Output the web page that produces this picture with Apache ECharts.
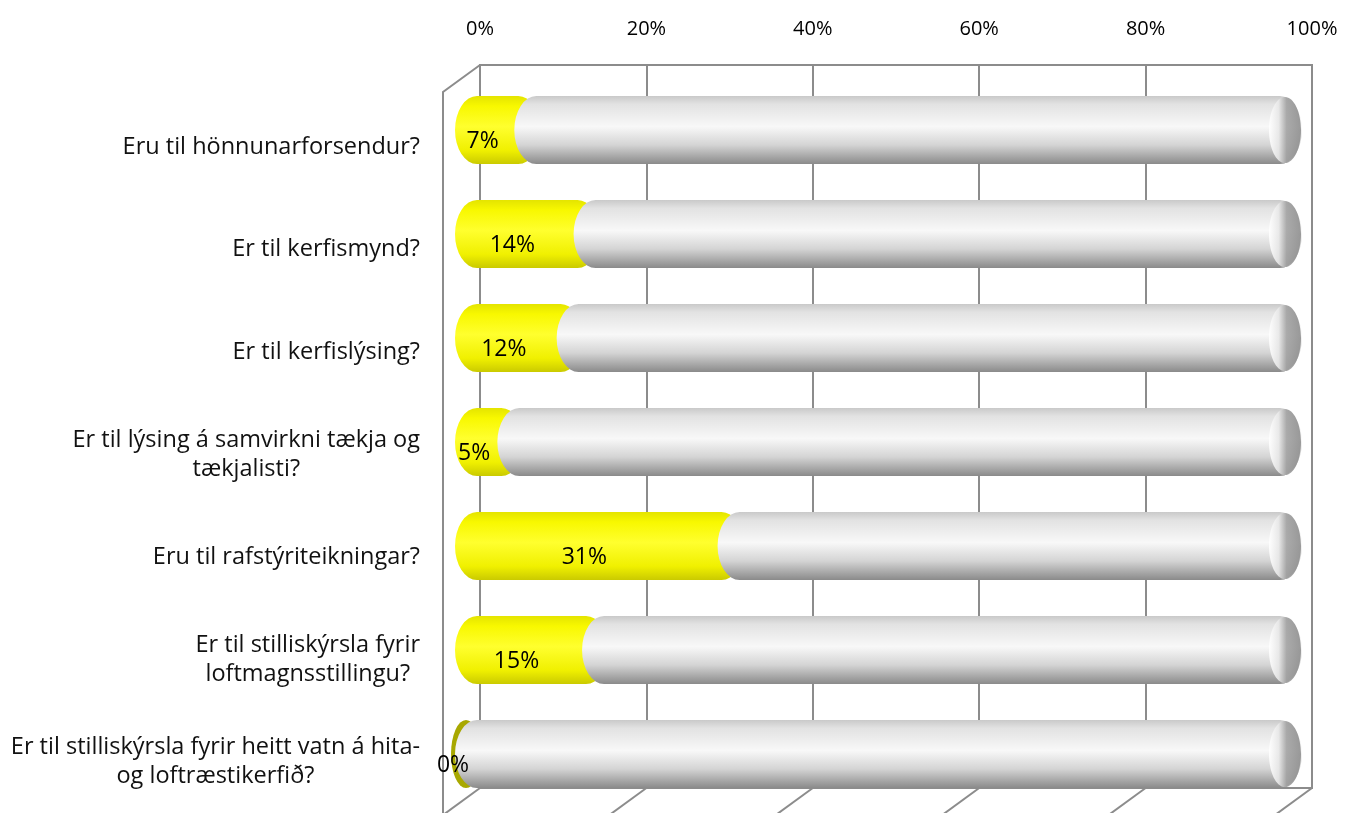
<!DOCTYPE html>
<html lang="en">
<head>
<meta charset="UTF-8">
<title>Chart</title>
<script src="https://cdn.jsdelivr.net/npm/echarts@6/dist/echarts.min.js"></script>
<style>
  html, body { margin: 0; padding: 0; background: #fff; }
  #main { width: 1358px; height: 813px; }
</style>
</head>
<body>
<div id="main"></div>
<script>
// questions (top to bottom) and share answered "yes" in %
var categories = [
  'Eru til hönnunarforsendur?',
  'Er til kerfismynd?',
  'Er til kerfislýsing?',
  'Er til lýsing á samvirkni tækja og\ntækjalisti?',
  'Eru til rafstýriteikningar?',
  'Er til stilliskýrsla fyrir\nloftmagnsstillingu?',
  'Er til stilliskýrsla fyrir heitt vatn á hita-\nog loftræstikerfið?'
];
var yesValues = [7, 14, 12, 5, 31, 15, 0];
var tickValues = [0, 20, 40, 60, 80, 100];

var FONT = '"Open Sans"';
var chart = echarts.init(document.getElementById('main'));

var grayFill = {
  type: 'linear', x: 0, y: 0, x2: 0, y2: 1,
  colorStops: [
    { offset: 0, color: '#c9c9c9' },
    { offset: 0.12, color: '#e2e2e2' },
    { offset: 0.45, color: '#f8f8f8' },
    { offset: 0.72, color: '#d4d4d4' },
    { offset: 1, color: '#8a8a8a' }
  ]
};
var yellowFill = {
  type: 'linear', x: 0, y: 0, x2: 0, y2: 1,
  colorStops: [
    { offset: 0, color: '#e4e400' },
    { offset: 0.15, color: '#f8f800' },
    { offset: 0.45, color: '#ffff2e' },
    { offset: 0.8, color: '#f0f000' },
    { offset: 1, color: '#caca00' }
  ]
};
var capFill = {
  type: 'linear', x: 0, y: 0, x2: 1, y2: 0,
  colorStops: [
    { offset: 0, color: '#ffffff' },
    { offset: 0.3, color: '#e8e8e8' },
    { offset: 0.55, color: '#a2a2a2' },
    { offset: 1, color: '#8e8e8e' }
  ]
};

// capsule with half-ellipse ends, from xa to xb
function capsule(xa, xb, y, h, rx) {
  var ry = h / 2;
  if (xb - xa < 2 * rx) rx = (xb - xa) / 2;
  return 'M' + (xa + rx) + ',' + y +
    'L' + (xb - rx) + ',' + y +
    'A' + rx + ',' + ry + ',0,0,1,' + (xb - rx) + ',' + (y + h) +
    'L' + (xa + rx) + ',' + (y + h) +
    'A' + rx + ',' + ry + ',0,0,1,' + (xa + rx) + ',' + y + 'Z';
}

function renderCylinder(params, api) {
  var idx = api.value(0);
  var v = api.value(1);
  var p0 = api.coord([0, idx]);
  var pv = api.coord([v, idx]);
  var p100 = api.coord([100, idx]);
  var h = api.size([0, 1])[1] * 0.655;
  var y = p0[1] - h / 2;
  var rx = 22;
  var children = [];
  children.push({
    type: 'path',
    shape: { pathData: capsule(v > 0 ? p0[0] : p0[0] - 4, pv[0] + rx + 4, y, h, rx) },
    style: { fill: v > 0 ? yellowFill : '#a8a800' }
  });
  children.push({
    type: 'path',
    shape: { pathData: capsule(pv[0], p100[0], y, h, rx) },
    style: { fill: grayFill }
  });
  children.push({
    type: 'ellipse',
    shape: { cx: p100[0] - 17, cy: p0[1], rx: 16, ry: h / 2 - 1 },
    style: { fill: capFill, opacity: 0.9 }
  });
  children.push({
    type: 'text',
    style: {
      text: v + '%',
      x: (p0[0] + pv[0]) / 2 - 2,
      y: p0[1] + 11,
      align: 'center',
      verticalAlign: 'middle',
      fill: '#000',
      font: '23px ' + FONT
    }
  });
  return { type: 'group', children: children };
}

var option = {
  animation: false,
  grid: [
    { left: 480, right: 46, top: 65, bottom: 25, show: true, borderColor: '#8c8c8c', borderWidth: 2, backgroundColor: 'transparent' },
    { left: 455, right: 56, top: 78, bottom: 7 },
    // category labels sit a bit lower, between the front and back planes
    { left: 455, right: 56, top: 96, bottom: -11 }
  ],
  xAxis: [
    {
      gridIndex: 0, type: 'value', position: 'top', min: 0, max: 100, interval: 20,
      axisLine: { show: false }, axisTick: { show: false },
      splitLine: { show: true, lineStyle: { color: '#8c8c8c', width: 2 } },
      axisLabel: {
        margin: 26, color: '#000', fontSize: 20, fontFamily: FONT,
        formatter: function (val) { return tickValues.indexOf(val) >= 0 ? val + '%' : ''; }
      }
    },
    { gridIndex: 1, type: 'value', min: 0, max: 100, show: false },
    { gridIndex: 2, type: 'value', min: 0, max: 100, show: false }
  ],
  yAxis: [
    { gridIndex: 0, type: 'category', data: categories, show: false },
    { gridIndex: 1, type: 'category', data: categories, inverse: true, show: false },
    {
      gridIndex: 2, type: 'category', data: categories, inverse: true,
      axisLine: { show: false }, axisTick: { show: false },
      axisLabel: {
        margin: 35, color: '#111', fontSize: 23.5, fontFamily: FONT, lineHeight: 29,
        formatter: function (val) {
          return val.split('\n').map(function (l) { return '{c|' + l + '}'; }).join('\n');
        },
        rich: { c: { align: 'center', fontSize: 23.5, fontFamily: FONT, lineHeight: 29, color: '#111' } }
      }
    }
  ],
  series: [{
    type: 'custom',
    xAxisIndex: 1,
    yAxisIndex: 1,
    renderItem: renderCylinder,
    encode: { x: 1, y: 0 },
    data: yesValues.map(function (v, i) { return [i, v]; })
  }]
};
chart.setOption(option);

// side wall and floor edges of the 3D frame, taken from the back wall grid
var dx = -37, dy = 27;
var lines = [];
var gridRect = chart.getModel().getComponent('grid', 0).coordinateSystem.getRect();
var bottomY = gridRect.y + gridRect.height;
lines.push([[gridRect.x, gridRect.y], [gridRect.x + dx, gridRect.y + dy], [gridRect.x + dx, 813]]);
tickValues.forEach(function (t) {
  var px = chart.convertToPixel({ xAxisIndex: 0 }, t);
  lines.push([[px, bottomY], [px + dx, bottomY + dy]]);
});
chart.setOption({
  graphic: lines.map(function (pts) {
    return { type: 'polyline', z: -1, shape: { points: pts }, style: { stroke: '#8c8c8c', lineWidth: 2, fill: null } };
  })
});
</script>
</body>
</html>
